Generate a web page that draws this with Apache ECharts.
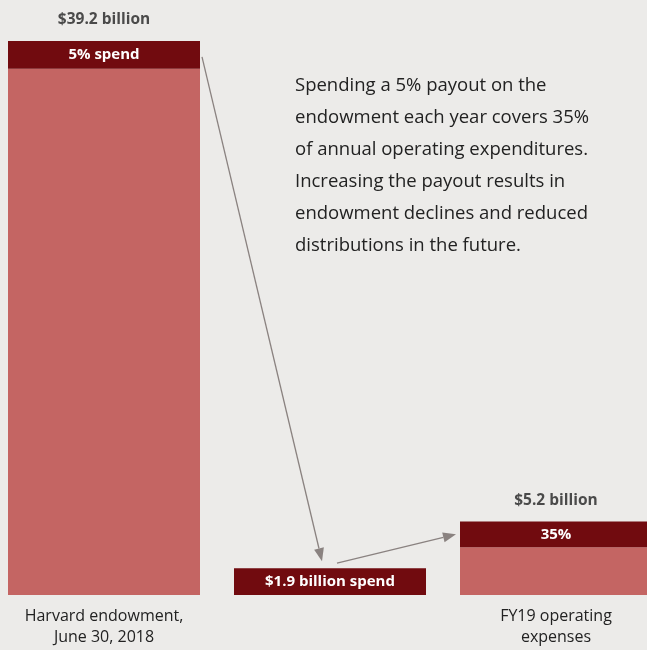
<!DOCTYPE html>
<html>
<head>
<meta charset="utf-8">
<script src="https://cdn.jsdelivr.net/npm/echarts@6/dist/echarts.min.js"></script>
<style>
  html, body { margin: 0; padding: 0; background: #ecebe9; }
  #chart { width: 647px; height: 650px; }
</style>
</head>
<body>
<div id="chart"></div>
<script>
// Endowment payout vs. operating expenses (US$ billions)
const categories = ['Harvard endowment,\nJune 30, 2018', '', 'FY19 operating\nexpenses'];
const totals = [39.2, 1.9, 5.2];
const payoutRate = 0.05;      // share of the endowment spent each year
const coverageShare = 0.35;   // share of operating expenses covered by the payout
const totalLabels = ['$39.2 billion', '', '$5.2 billion'];
const spendLabels = ['5% spend', '$1.9 billion spend', '35%'];
const note = [
  'Spending a 5% payout on the',
  'endowment each year covers 35%',
  'of annual operating expenditures.',
  'Increasing the payout results in',
  'endowment declines and reduced',
  'distributions in the future.'
];

const spendPart = [totals[0] * payoutRate, totals[1], totals[2] * coverageShare];
const restPart = [totals[0] - spendPart[0], '-', totals[2] - spendPart[2]];

const DARK = '#710b0f';
const LIGHT = '#c46563';
const INK = '#222222';
const ARROW = '#8a8280';
const FONT = '"Open Sans", Lato, sans-serif';
const BAR_W = 192;

function arrowShape(start, end) {
  const dx = end[0] - start[0], dy = end[1] - start[1];
  const len = Math.sqrt(dx * dx + dy * dy);
  const ux = dx / len, uy = dy / len;
  const headL = 13, headW = 5;
  const bx = end[0] - ux * headL, by = end[1] - uy * headL;
  return [
    { type: 'line', shape: { x1: start[0], y1: start[1], x2: bx, y2: by },
      style: { stroke: ARROW, lineWidth: 1.3 } },
    { type: 'polygon', shape: { points: [
        end,
        [bx - uy * headW, by + ux * headW],
        [bx + uy * headW, by - ux * headW]
      ] }, style: { fill: ARROW } }
  ];
}

const chart = echarts.init(document.getElementById('chart'), null, { renderer: 'canvas' });
chart.setOption({
  backgroundColor: '#ecebe9',
  animation: false,
  grid: { left: -9, width: 678, top: 41, bottom: 55, containLabel: false, outerBoundsMode: 'none' },
  xAxis: {
    type: 'category',
    data: categories,
    axisLine: { show: false },
    axisTick: { show: false },
    axisLabel: { color: INK, fontFamily: FONT, fontSize: 16, lineHeight: 21, margin: 11, interval: 0 }
  },
  yAxis: { type: 'value', min: 0, max: 39.2, show: false },
  series: [
    {
      name: 'rest', type: 'bar', stack: 'b', barWidth: BAR_W,
      data: restPart,
      itemStyle: { color: LIGHT }
    },
    {
      name: 'spend', type: 'bar', stack: 'b', barWidth: BAR_W,
      data: spendPart,
      itemStyle: { color: DARK },
      label: {
        show: true, position: 'inside', color: '#ffffff',
        fontFamily: FONT, fontWeight: 'bold', fontSize: 15,
        formatter: p => spendLabels[p.dataIndex]
      }
    },
    {
      name: 'total', type: 'scatter', symbolSize: 0,
      data: totals.map((v, i) => [i, v]).filter((d, i) => totalLabels[i]),
      label: {
        show: true, position: 'top', distance: 13, color: INK,
        fontFamily: FONT, fontWeight: 'bold', fontSize: 15.5,
        formatter: p => totalLabels[p.data[0]]
      }
    },
    {
      name: 'flow', type: 'custom', silent: true,
      data: [[0, 0], [1, 0]],
      renderItem(params, api) {
        const half = BAR_W / 2;
        let start, end;
        if (params.dataIndex === 0) {
          start = api.coord([0, totals[0] - spendPart[0] / 2]);
          start[0] += half + 2; start[1] += 2;
          end = api.coord([1, totals[1]]);
          end[0] -= 8; end[1] -= 7;
        } else {
          start = api.coord([1, totals[1]]);
          start[0] += 7; start[1] -= 5;
          end = api.coord([2, totals[2] - spendPart[2] / 2]);
          end[0] -= half + 4;
        }
        return { type: 'group', children: arrowShape(start, end) };
      }
    }
  ],
  graphic: [{
    type: 'text', left: 295, top: 70,
    style: {
      text: note.join('\n'), fill: INK, font: '18.5px ' + FONT, lineHeight: 32
    }
  }]
});
</script>
</body>
</html>
